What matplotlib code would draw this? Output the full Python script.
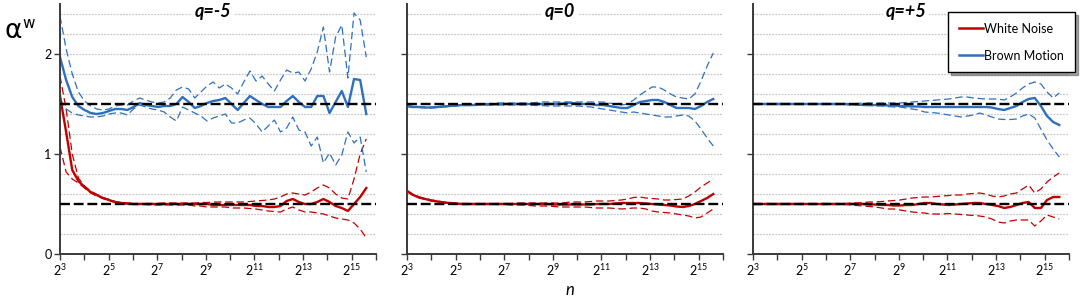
import numpy as np
import matplotlib
matplotlib.use("Agg")
import matplotlib.pyplot as plt
from matplotlib.lines import Line2D
from matplotlib.transforms import blended_transform_factory

plt.rcParams['font.family'] = ['Lato', 'DejaVu Sans']

# ---------------- data ----------------
# sampling grid of window sizes n (log2 of n)
log2_n = np.linspace(3, 15.6, 51)
n_values = 2 ** log2_n

panel_titles = ["q=-5", "q=0", "q=+5"]
series_labels = ["White Noise", "Brown Motion"]
xtick_exponents = list(range(3, 17))
ytick_values = [0, 1, 2]
reference_levels = [0.5, 1.5]

# q = -5
wn_mean_qm5 = [1.58, 1.22, 0.84, 0.73, 0.67, 0.62, 0.59, 0.56, 0.54, 0.52,
               0.51, 0.505, 0.50, 0.50, 0.50, 0.50, 0.50, 0.50, 0.50, 0.50,
               0.50, 0.50, 0.50, 0.50, 0.50, 0.49, 0.49, 0.49, 0.49, 0.49,
               0.49, 0.49, 0.48, 0.48, 0.47, 0.47, 0.48, 0.53, 0.55, 0.52,
               0.50, 0.50, 0.52, 0.55, 0.52, 0.48, 0.46, 0.43, 0.50, 0.57,
               0.66]
wn_hi_qm5 = [1.78, 1.45, 1.00, 0.76, 0.68, 0.63, 0.595, 0.565, 0.545, 0.525,
             0.515, 0.51, 0.505, 0.505, 0.505, 0.505, 0.505, 0.51, 0.51, 0.51,
             0.51, 0.51, 0.51, 0.515, 0.515, 0.52, 0.52, 0.52, 0.52, 0.52,
             0.52, 0.525, 0.53, 0.535, 0.54, 0.55, 0.57, 0.60, 0.61, 0.60,
             0.59, 0.62, 0.66, 0.69, 0.66, 0.60, 0.56, 0.55, 0.75, 1.00,
             1.15]
wn_lo_qm5 = [1.07, 0.82, 0.75, 0.71, 0.66, 0.61, 0.58, 0.555, 0.535, 0.515,
             0.505, 0.50, 0.495, 0.495, 0.495, 0.49, 0.49, 0.49, 0.49, 0.49,
             0.49, 0.49, 0.48, 0.48, 0.47, 0.47, 0.47, 0.47, 0.46, 0.46,
             0.46, 0.455, 0.45, 0.44, 0.43, 0.425, 0.42, 0.45, 0.47, 0.44,
             0.42, 0.42, 0.41, 0.40, 0.38, 0.36, 0.35, 0.34, 0.31, 0.25,
             0.16]
bm_mean_qm5 = [1.97, 1.74, 1.57, 1.48, 1.44, 1.41, 1.40, 1.41, 1.43, 1.45,
               1.45, 1.44, 1.47, 1.51, 1.49, 1.48, 1.47, 1.48, 1.48, 1.50,
               1.57, 1.52, 1.46, 1.48, 1.51, 1.53, 1.54, 1.56, 1.50, 1.44,
               1.51, 1.58, 1.54, 1.50, 1.47, 1.47, 1.47, 1.53, 1.58, 1.52,
               1.47, 1.47, 1.58, 1.58, 1.41, 1.52, 1.63, 1.47, 1.75, 1.74,
               1.40]
bm_hi_qm5 = [2.38, 2.05, 1.80, 1.62, 1.53, 1.48, 1.45, 1.44, 1.45, 1.48,
             1.49, 1.49, 1.53, 1.56, 1.54, 1.52, 1.51, 1.52, 1.56, 1.64,
             1.67, 1.65, 1.56, 1.62, 1.68, 1.72, 1.66, 1.70, 1.66, 1.60,
             1.72, 1.83, 1.73, 1.78, 1.70, 1.63, 1.74, 1.84, 1.81, 1.82,
             1.73, 1.85, 2.02, 2.27, 1.82, 2.17, 2.29, 1.76, 2.41, 2.34,
             1.97]
bm_lo_qm5 = [1.55, 1.45, 1.41, 1.39, 1.38, 1.37, 1.37, 1.38, 1.40, 1.41,
             1.41, 1.39, 1.45, 1.49, 1.47, 1.45, 1.44, 1.42, 1.37, 1.33,
             1.47, 1.44, 1.41, 1.38, 1.33, 1.36, 1.38, 1.40, 1.31, 1.31,
             1.34, 1.36, 1.30, 1.22, 1.28, 1.34, 1.22, 1.26, 1.37, 1.24,
             1.22, 1.08, 1.17, 0.91, 1.01, 0.89, 0.99, 1.22, 1.11, 1.17,
             0.82]

# q = 0
wn_mean_q0 = [0.63, 0.59, 0.565, 0.55, 0.535, 0.525, 0.515, 0.51, 0.505, 0.50,
              0.50, 0.50, 0.50, 0.50, 0.50, 0.50, 0.50, 0.50, 0.50, 0.50,
              0.50, 0.50, 0.50, 0.50, 0.495, 0.495, 0.495, 0.495, 0.495, 0.495,
              0.495, 0.50, 0.50, 0.50, 0.505, 0.51, 0.51, 0.51, 0.51, 0.505,
              0.50, 0.495, 0.49, 0.485, 0.475, 0.47, 0.48, 0.50, 0.53, 0.56,
              0.60]
wn_hi_q0 = [0.635, 0.595, 0.57, 0.555, 0.54, 0.53, 0.52, 0.515, 0.51, 0.505,
            0.505, 0.505, 0.505, 0.505, 0.505, 0.505, 0.505, 0.505, 0.51, 0.51,
            0.51, 0.51, 0.51, 0.51, 0.51, 0.51, 0.515, 0.52, 0.52, 0.52,
            0.525, 0.53, 0.53, 0.53, 0.535, 0.54, 0.55, 0.565, 0.57, 0.56,
            0.555, 0.55, 0.54, 0.54, 0.545, 0.55, 0.58, 0.62, 0.67, 0.71,
            0.75]
wn_lo_q0 = [0.625, 0.585, 0.56, 0.545, 0.53, 0.52, 0.51, 0.505, 0.50, 0.495,
            0.495, 0.495, 0.495, 0.495, 0.495, 0.495, 0.495, 0.49, 0.49, 0.49,
            0.485, 0.48, 0.48, 0.48, 0.475, 0.47, 0.47, 0.47, 0.47, 0.47,
            0.465, 0.46, 0.46, 0.46, 0.455, 0.45, 0.455, 0.46, 0.46, 0.45,
            0.43, 0.42, 0.415, 0.41, 0.40, 0.39, 0.38, 0.36, 0.37, 0.41,
            0.45]
bm_mean_q0 = [1.48, 1.47, 1.47, 1.465, 1.465, 1.47, 1.475, 1.48, 1.485, 1.49,
              1.49, 1.49, 1.495, 1.495, 1.495, 1.50, 1.50, 1.50, 1.50, 1.50,
              1.50, 1.50, 1.50, 1.50, 1.50, 1.50, 1.51, 1.51, 1.50, 1.50,
              1.50, 1.49, 1.49, 1.48, 1.47, 1.46, 1.46, 1.49, 1.52, 1.53,
              1.54, 1.54, 1.52, 1.49, 1.46, 1.46, 1.46, 1.45, 1.48, 1.52,
              1.55]
bm_hi_q0 = [1.485, 1.475, 1.475, 1.47, 1.47, 1.475, 1.48, 1.485, 1.49, 1.495,
            1.50, 1.50, 1.505, 1.505, 1.505, 1.51, 1.51, 1.51, 1.51, 1.51,
            1.51, 1.515, 1.52, 1.52, 1.52, 1.52, 1.52, 1.52, 1.52, 1.52,
            1.52, 1.52, 1.52, 1.51, 1.50, 1.49, 1.50, 1.54, 1.59, 1.63,
            1.67, 1.67, 1.64, 1.60, 1.57, 1.56, 1.55, 1.60, 1.73, 1.88,
            2.01]
bm_lo_q0 = [1.475, 1.465, 1.465, 1.46, 1.46, 1.465, 1.47, 1.475, 1.48, 1.485,
            1.485, 1.485, 1.49, 1.49, 1.49, 1.49, 1.49, 1.49, 1.49, 1.49,
            1.49, 1.485, 1.485, 1.48, 1.48, 1.48, 1.48, 1.48, 1.48, 1.475,
            1.47, 1.46, 1.45, 1.44, 1.43, 1.42, 1.41, 1.42, 1.41, 1.40,
            1.39, 1.38, 1.37, 1.37, 1.38, 1.39, 1.38, 1.33, 1.25, 1.16,
            1.08]

# q = +5
wn_mean_qp5 = [0.50, 0.50, 0.50, 0.50, 0.50, 0.50, 0.50, 0.50, 0.50, 0.50,
               0.50, 0.50, 0.50, 0.50, 0.50, 0.50, 0.50, 0.50, 0.50, 0.495,
               0.495, 0.49, 0.49, 0.485, 0.485, 0.49, 0.49, 0.50, 0.51, 0.51,
               0.50, 0.495, 0.49, 0.495, 0.50, 0.505, 0.51, 0.51, 0.50, 0.49,
               0.48, 0.46, 0.47, 0.49, 0.51, 0.52, 0.46, 0.46, 0.54, 0.57,
               0.57]
wn_hi_qp5 = [0.505, 0.505, 0.505, 0.505, 0.505, 0.505, 0.505, 0.505, 0.505, 0.505,
             0.505, 0.505, 0.505, 0.505, 0.505, 0.505, 0.51, 0.51, 0.515, 0.52,
             0.52, 0.525, 0.53, 0.535, 0.54, 0.55, 0.56, 0.565, 0.57, 0.57,
             0.575, 0.58, 0.585, 0.59, 0.59, 0.60, 0.605, 0.61, 0.60, 0.58,
             0.57, 0.58, 0.60, 0.61, 0.65, 0.69, 0.61, 0.65, 0.72, 0.77,
             0.81]
wn_lo_qp5 = [0.495, 0.495, 0.495, 0.495, 0.495, 0.495, 0.495, 0.495, 0.495, 0.495,
             0.495, 0.495, 0.495, 0.495, 0.495, 0.495, 0.49, 0.485, 0.48, 0.475,
             0.47, 0.46, 0.45, 0.45, 0.44, 0.43, 0.42, 0.415, 0.41, 0.40,
             0.40, 0.40, 0.405, 0.40, 0.395, 0.39, 0.385, 0.38, 0.37, 0.35,
             0.32, 0.31, 0.33, 0.34, 0.34, 0.34, 0.28, 0.33, 0.39, 0.37,
             0.35]
bm_mean_qp5 = [1.50, 1.50, 1.50, 1.50, 1.50, 1.50, 1.50, 1.50, 1.50, 1.50,
               1.50, 1.50, 1.50, 1.50, 1.50, 1.50, 1.495, 1.495, 1.49, 1.49,
               1.49, 1.49, 1.485, 1.485, 1.48, 1.48, 1.475, 1.475, 1.47, 1.47,
               1.47, 1.47, 1.47, 1.47, 1.47, 1.47, 1.47, 1.47, 1.47, 1.465,
               1.45, 1.44, 1.46, 1.48, 1.52, 1.55, 1.56, 1.48, 1.38, 1.32,
               1.29]
bm_hi_qp5 = [1.505, 1.505, 1.505, 1.505, 1.505, 1.505, 1.505, 1.505, 1.505, 1.505,
             1.505, 1.505, 1.505, 1.505, 1.505, 1.505, 1.505, 1.505, 1.51, 1.51,
             1.51, 1.51, 1.51, 1.51, 1.51, 1.515, 1.52, 1.525, 1.53, 1.535,
             1.54, 1.545, 1.55, 1.56, 1.57, 1.57, 1.56, 1.555, 1.55, 1.55,
             1.55, 1.54, 1.57, 1.61, 1.66, 1.70, 1.72, 1.70, 1.62, 1.56,
             1.61]
bm_lo_qp5 = [1.495, 1.495, 1.495, 1.495, 1.495, 1.495, 1.495, 1.495, 1.495, 1.495,
             1.495, 1.495, 1.495, 1.495, 1.495, 1.495, 1.49, 1.49, 1.485, 1.485,
             1.48, 1.48, 1.475, 1.47, 1.47, 1.46, 1.45, 1.44, 1.42, 1.415,
             1.41, 1.40, 1.39, 1.38, 1.37, 1.38, 1.39, 1.41, 1.39, 1.37,
             1.35, 1.345, 1.345, 1.35, 1.38, 1.40, 1.36, 1.25, 1.14, 1.05,
             0.97]

panel_data = [
    (wn_mean_qm5, wn_hi_qm5, wn_lo_qm5, bm_mean_qm5, bm_hi_qm5, bm_lo_qm5),
    (wn_mean_q0, wn_hi_q0, wn_lo_q0, bm_mean_q0, bm_hi_q0, bm_lo_q0),
    (wn_mean_qp5, wn_hi_qp5, wn_lo_qp5, bm_mean_qp5, bm_hi_qp5, bm_lo_qp5),
]

# ---------------- styling ----------------
RED = "#C00000"
BLUE = "#2E70BE"
GRID = "#C8C8C8"
SPINE = "#3A3A3A"

W, H = 1084, 298
fig = plt.figure(figsize=(W / 100, H / 100), dpi=100)

lefts_px = [60, 407, 753]
ax_w_px = 316
bottom_px = 44
ax_h_px = 250

for i, (title, data) in enumerate(zip(panel_titles, panel_data)):
    wn_m, wn_h, wn_l, bm_m, bm_h, bm_l = data
    ax = fig.add_axes([lefts_px[i] / W, bottom_px / H, ax_w_px / W, ax_h_px / H])
    ax.set_xscale('log', base=2)
    ax.set_xlim(2 ** 3, 2 ** 16)
    ax.set_ylim(0, 2.5)

    for y in np.arange(0.2, 2.41, 0.2):
        ax.axhline(y, color=GRID, lw=0.9, ls=(0, (1.5, 1)), zorder=0)

    dash = (0, (6, 3))
    ax.plot(n_values, wn_h, color=RED, lw=0.9, ls=dash, zorder=2)
    ax.plot(n_values, wn_l, color=RED, lw=0.9, ls=dash, zorder=2)
    ax.plot(n_values, bm_h, color=BLUE, lw=0.9, ls=dash, zorder=2)
    ax.plot(n_values, bm_l, color=BLUE, lw=0.9, ls=dash, zorder=2)
    ax.plot(n_values, wn_m, color=RED, lw=1.7, zorder=2.5)
    ax.plot(n_values, bm_m, color=BLUE, lw=1.7, zorder=2.5)

    for lvl in reference_levels:
        ax.axhline(lvl, color='black', lw=1.7, ls=(0, (4.2, 1.6)), zorder=3)

    ax.set_xticks([2.0 ** e for e in xtick_exponents])
    ax.set_xticklabels([r'$\mathregular{2^{%d}}$' % e if e % 2 == 1 and e < 16 else ''
                        for e in xtick_exponents], fontsize=9)
    ax.xaxis.set_minor_locator(matplotlib.ticker.NullLocator())
    ax.set_yticks(ytick_values)
    if i == 0:
        ax.set_yticklabels([str(v) for v in ytick_values], fontsize=9)
    else:
        ax.set_yticklabels([])
    ax.tick_params(axis='both', direction='out', length=4, width=1.0, color=SPINE, pad=2)
    for side in ['top', 'right']:
        ax.spines[side].set_visible(False)
    for side in ['left', 'bottom']:
        ax.spines[side].set_color(SPINE)
        ax.spines[side].set_linewidth(1.4)

    trans = blended_transform_factory(ax.transAxes, ax.transData)
    ax.text(0.485, 2.42, title, transform=trans, ha='center', va='center',
            fontsize=13, fontweight='bold', style='italic', zorder=5,
            bbox=dict(facecolor='white', edgecolor='none', pad=2))

    if i == 2:
        handles = [Line2D([], [], color=RED, lw=1.8), Line2D([], [], color=BLUE, lw=1.8)]
        leg = ax.legend(handles, series_labels, loc='upper right',
                        bbox_to_anchor=(1075 / W, 1 - 12 / H),
                        bbox_transform=fig.transFigure, borderaxespad=0,
                        fontsize=9, frameon=True, fancybox=False, shadow=True,
                        framealpha=1, edgecolor='black', labelspacing=1.2,
                        handlelength=1.9, handletextpad=0.15, borderpad=0.85)
        leg.get_frame().set_linewidth(1.0)
        leg.set_zorder(10)

fig.text(4 / W, 1 - 38 / H, 'α', fontsize=19, family=['DejaVu Sans'],
         ha='left', va='baseline')
fig.text(22 / W, 1 - 28 / H, 'w', fontsize=11, family=['DejaVu Sans'],
         ha='left', va='baseline')
fig.text(570 / W, 1 - 290 / H, 'n', fontsize=12, style='italic',
         ha='center', va='center')

fig.savefig('out.png', dpi=100)
